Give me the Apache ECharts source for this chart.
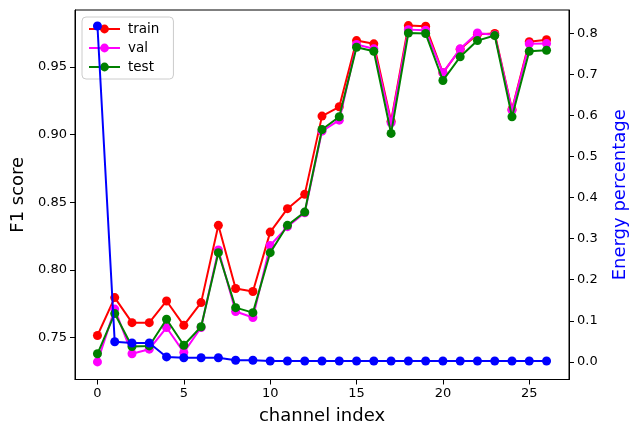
<!DOCTYPE html>
<html><head><meta charset="utf-8">
<script src="https://cdn.jsdelivr.net/npm/echarts@6/dist/echarts.min.js"></script>
<style>html,body{margin:0;padding:0;background:#fff}#c{width:637px;height:437px}</style>
</head><body><div id="c"></div>
<script>
const channels = [0,1,2,3,4,5,6,7,8,9,10,11,12,13,14,15,16,17,18,19,20,21,22,23,24,25,26];
const trainF1 = [0.7515,0.7795,0.761,0.761,0.777,0.759,0.7758,0.8329,0.7862,0.784,0.8279,0.8452,0.8558,0.9136,0.9205,0.9694,0.967,0.9098,0.9805,0.980,0.9456,0.963,0.974,0.9746,0.9185,0.9685,0.9701];
const valF1 = [0.732,0.771,0.738,0.7414,0.7574,0.739,0.7574,0.8147,0.7692,0.7648,0.818,0.8319,0.8422,0.9025,0.9106,0.9665,0.9633,0.9087,0.9775,0.977,0.9456,0.9633,0.975,0.9735,0.918,0.967,0.9672];
const testF1 = [0.738,0.7677,0.7434,0.7438,0.7635,0.7443,0.758,0.8127,0.7721,0.7684,0.8127,0.8329,0.8427,0.9037,0.9131,0.9645,0.9615,0.9008,0.975,0.9746,0.9399,0.9574,0.9694,0.9731,0.9131,0.9615,0.9623];
const energy = [0.818,0.049,0.046,0.046,0.012,0.010,0.010,0.010,0.004,0.004,0.002,0.002,0.002,0.002,0.002,0.002,0.002,0.002,0.002,0.002,0.002,0.002,0.002,0.002,0.002,0.002,0.002];
const xTicks = [0,5,10,15,20,25];
const f1Ticks = [0.75,0.80,0.85,0.90,0.95];
const energyTicks = [0.0,0.1,0.2,0.3,0.4,0.5,0.6,0.7,0.8];

const pairs = arr => channels.map((c,i)=>[c,arr[i]]);
const font = 'DejaVu Sans';
const tickStyle = {show:true, inside:false, length:5, lineStyle:{color:'#000', width:1}};
const labelBase = {color:'#000', fontFamily:font, fontSize:13};

function lineSeries(name, data, color, yIdx, z){
  return {name, type:'line', data:pairs(data), yAxisIndex:yIdx, symbol:'circle', symbolSize:9,
    itemStyle:{color}, lineStyle:{color, width:2}, z, animation:false};
}

const chart = echarts.init(document.getElementById('c'), null, {renderer:'canvas'});
chart.setOption({
  backgroundColor:'#fff',
  animation:false,
  grid:{left:75, right:65, top:10, bottom:57.5, show:true, borderColor:'#000', borderWidth:1, backgroundColor:'transparent'},
  legend:{
    data:['train','val','test'], orient:'vertical', left:82, top:17,
    itemWidth:31, itemHeight:11, itemGap:5, padding:[5,14,5,6],
    backgroundColor:'rgba(255,255,255,0.8)', borderColor:'#ccc', borderWidth:1, borderRadius:4,
    textStyle:{fontFamily:font, fontSize:13.5, color:'#000', padding:[0,0,0,3]}
  },
  xAxis:{type:'value', min:-1.3, max:27.3,
    name:'channel index', nameLocation:'middle', nameGap:28,
    nameTextStyle:{fontFamily:font, fontSize:18, color:'#000'},
    axisLine:{show:true, onZero:false, lineStyle:{color:'#000'}}, splitLine:{show:false},
    axisTick:Object.assign({customValues:xTicks}, tickStyle),
    axisLabel:Object.assign({customValues:xTicks, margin:8}, labelBase)
  },
  yAxis:[
    {type:'value', position:'left', min:0.719, max:0.992,
      name:'F1 score', nameLocation:'middle', nameGap:48, nameRotate:90,
      nameTextStyle:{fontFamily:font, fontSize:18, color:'#000'},
      axisLine:{show:true, onZero:false, lineStyle:{color:'#000'}}, splitLine:{show:false},
      axisTick:Object.assign({customValues:f1Ticks}, tickStyle),
      axisLabel:Object.assign({customValues:f1Ticks, margin:8, formatter:v=>v.toFixed(2)}, labelBase)
    },
    {type:'value', position:'right', min:-0.043, max:0.857,
      name:'Energy percentage', nameLocation:'middle', nameGap:42, nameRotate:90,
      nameTextStyle:{fontFamily:font, fontSize:18, color:'#0000ff'},
      axisLine:{show:true, onZero:false, lineStyle:{color:'#000'}}, splitLine:{show:false},
      axisTick:Object.assign({customValues:energyTicks}, tickStyle),
      axisLabel:Object.assign({customValues:energyTicks, margin:8, formatter:v=>v.toFixed(1)}, labelBase)
    }
  ],
  series:[
    lineSeries('train', trainF1, '#ff0000', 0, 2),
    lineSeries('val', valF1, '#ff00ff', 0, 3),
    lineSeries('test', testF1, '#008000', 0, 4),
    lineSeries('energy', energy, '#0000ff', 1, 6)
  ]
});
</script></body></html>
